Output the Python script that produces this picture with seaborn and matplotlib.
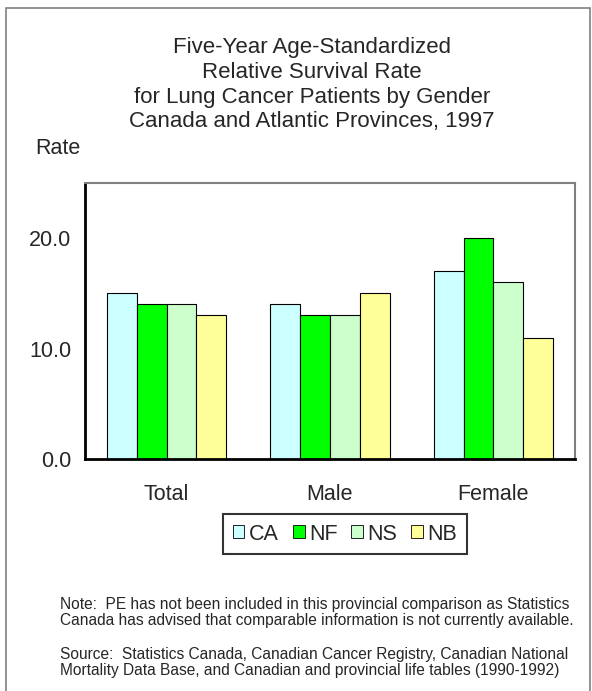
import matplotlib
matplotlib.use("Agg")
import matplotlib.pyplot as plt
import pandas as pd
import seaborn as sns
from matplotlib.patches import Rectangle

# Data
groups = ["Total", "Male", "Female"]
provinces = ["CA", "NF", "NS", "NB"]
ca = [15, 14, 17]
nf = [14, 13, 20]
ns = [14, 13, 16]
nb = [13, 15, 11]
colors = ["#CCFFFF", "#00FF00", "#CCFFCC", "#FFFF99"]

df = pd.DataFrame({"group": groups * 4,
                   "prov": [p for p in provinces for _ in groups],
                   "rate": ca + nf + ns + nb})

sns.set_style("white")
plt.rcParams["font.family"] = ["Liberation Sans", "DejaVu Sans"]

W, H = 592, 691
FS = 15.5
fig = plt.figure(figsize=(W / 100, H / 100), dpi=100)
ax = fig.add_axes([85 / W, 1 - 459 / H, (575 - 85) / W, (459 - 183) / H])

sns.barplot(data=df, x="group", y="rate", hue="prov", order=groups, hue_order=provinces,
            palette=colors, width=0.73, gap=0, edgecolor="black", linewidth=0.8,
            saturation=1, ax=ax, legend=True)

ax.set_xlim(-0.5, 2.5)
ax.set_ylim(0, 25)
ax.set_yticks([0, 10, 20])
ax.set_yticklabels(["0.0", "10.0", "20.0"], fontsize=FS)
ax.set_xticks([-0.5, 0.5, 1.5, 2.5])
ax.set_xticklabels(["", "", "", ""])
ax.tick_params(axis="x", direction="out", length=6, width=2, color="black")
ax.tick_params(axis="y", direction="out", length=6, width=2, color="black", pad=4)
for i, g in enumerate(groups):
    ax.text(i, -3.25, g, ha="center", va="center", fontsize=FS)
ax.set_xlabel("")
ax.set_ylabel("")
for s in ["left", "bottom"]:
    ax.spines[s].set_color("black")
    ax.spines[s].set_linewidth(2)
for s in ["top", "right"]:
    ax.spines[s].set_color("#808080")
    ax.spines[s].set_linewidth(1.5)

leg = ax.legend(loc="center", bbox_to_anchor=(345 / W, 1 - 534 / H), bbox_transform=fig.transFigure,
                ncol=4, frameon=True, fancybox=False, edgecolor="black", fontsize=FS,
                handlelength=0.55, handleheight=0.55, handletextpad=0.2, columnspacing=0.65,
                borderpad=0.45, borderaxespad=0)
leg.get_frame().set_linewidth(1.5)
for h in leg.legend_handles:
    h.set_linewidth(0.6)

title = ["Five-Year Age-Standardized", "Relative Survival Rate",
         "for Lung Cancer Patients by Gender", "Canada and Atlantic Provinces, 1997"]
for k, line in enumerate(title):
    fig.text(312 / W, 1 - (47 + 25 * k) / H, line, ha="center", va="center", fontsize=16)
fig.text(35 / W, 1 - 149 / H, "Rate", ha="left", va="center", fontsize=FS)

notes = [(604, "Note:  PE has not been included in this provincial comparison as Statistics"),
         (620, "Canada has advised that comparable information is not currently available."),
         (655, "Source:  Statistics Canada, Canadian Cancer Registry, Canadian National"),
         (671, "Mortality Data Base, and Canadian and provincial life tables (1990-1992)")]
for y, t in notes:
    fig.text(60 / W, 1 - y / H, t, ha="left", va="center", fontsize=11.2)

fig.patches.append(Rectangle((6 / W, -0.1), (590 - 6) / W, 1.1 - 8 / H, transform=fig.transFigure,
                             fill=False, edgecolor="#808080", linewidth=1.2))

fig.savefig("out.png", dpi=100)
